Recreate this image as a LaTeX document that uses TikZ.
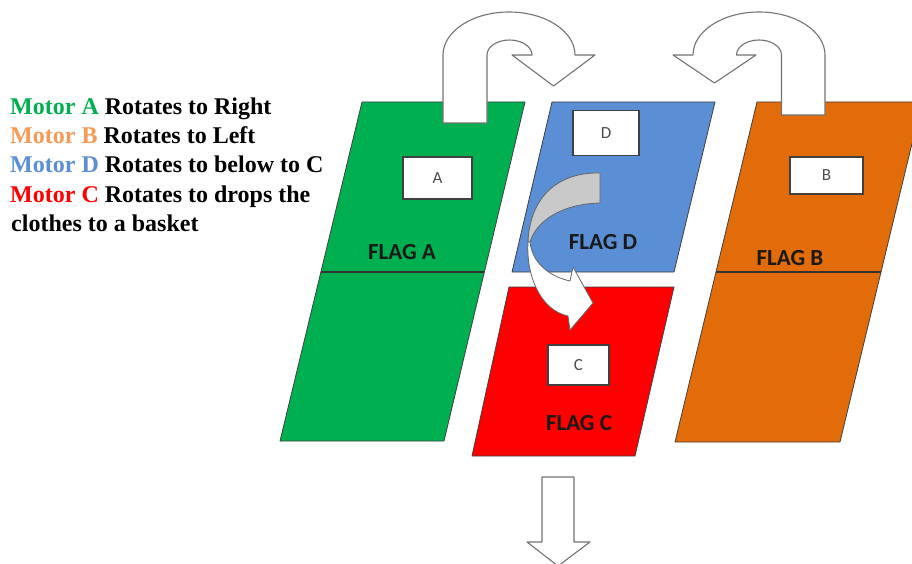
\documentclass[tikz,border=0pt]{standalone}
\usepackage{fontspec}
\setmainfont{Liberation Serif}
\newfontfamily\calib{Carlito}
\usetikzlibrary{calc}
\definecolor{fgreen}{HTML}{00B050}
\definecolor{fblue}{HTML}{5A8ED5}
\definecolor{fred}{HTML}{FF0000}
\definecolor{forange}{HTML}{E26C0A}
\definecolor{mgreen}{HTML}{00B050}
\definecolor{morange}{HTML}{F79A55}
\definecolor{mblue}{HTML}{5A8ED5}
\definecolor{mred}{HTML}{FF0000}
\definecolor{backgray}{HTML}{C9C9C9}
\begin{document}
\begin{tikzpicture}[x=1pt,y=-1pt,
  flag/.style={draw=black!75, line width=0.8pt, line join=round},
  midline/.style={draw=black!80, line width=1.1pt},
  tagbox/.style={draw=black!75, fill=white, line width=1.4pt, inner sep=0pt,
    font=\calib\fontsize{17}{17}\selectfont, text=black!70},
  flaglabel/.style={font=\calib\bfseries\fontsize{23}{23}\selectfont, text=black!90, inner sep=0pt},
  shapearrow/.style={draw=black!55, fill=white, line width=1.1pt, line join=round},
  legend/.style={anchor=base west, font=\bfseries\fontsize{24}{24}\selectfont, inner sep=0pt}]
\useasboundingbox (0,0) rectangle (912,564);
\clip (0,0) rectangle (912,564);

% ---- flags ----
\coordinate (gTL) at (362,102); \coordinate (gTR) at (525,102);
\coordinate (gBR) at (444,441); \coordinate (gBL) at (280,441);
\coordinate (oTL) at (757,102); \coordinate (oTR) at (922,102);
\coordinate (oBR) at (840,442); \coordinate (oBL) at (675,442);
\coordinate (bTL) at (552,102); \coordinate (bTR) at (715,102);
\coordinate (bBR) at (674,272); \coordinate (bBL) at (512,272);
\coordinate (rTL) at (509,287); \coordinate (rTR) at (674,287);
\coordinate (rBR) at (635,456); \coordinate (rBL) at (472,456);

\draw[flag, fill=fgreen] (gTL) -- (gTR) -- (gBR) -- (gBL) -- cycle;
\draw[midline] ($(gTL)!0.5015!(gBL)$) -- ($(gTR)!0.5015!(gBR)$);
\draw[flag, fill=forange] (oTL) -- (oTR) -- (oBR) -- (oBL) -- cycle;
\draw[midline] ($(oTL)!0.5!(oBL)$) -- ($(oTR)!0.5!(oBR)$);
\draw[flag, fill=fblue] (bTL) -- (bTR) -- (bBR) -- (bBL) -- cycle;
\draw[flag, fill=fred] (rTL) -- (rTR) -- (rBR) -- (rBL) -- cycle;

% ---- tag boxes ----
\node[tagbox, minimum width=69pt, minimum height=42pt] (boxA) at (437.5,178) {A};
\node[tagbox, minimum width=73pt, minimum height=37pt] (boxB) at (826.5,175.5) {B};
\node[tagbox, minimum width=66pt, minimum height=45pt] (boxD) at (606,133) {D};
\node[tagbox, minimum width=61pt, minimum height=40pt] (boxC) at (578.5,365) {C};

% ---- flag labels ----
\node[flaglabel] (labA) at (402,252) {FLAG A};
\node[flaglabel] (labB) at (790,258) {FLAG B};
\node[flaglabel] (labD) at (603,242) {FLAG D};
\node[flaglabel] (labC) at (579,423) {FLAG C};

% ---- U-turn arrow of motor A (to the right) ----
\draw[shapearrow] (443,123) -- (443,55)
  arc[start angle=180, end angle=0, x radius=66pt, y radius=43pt]
  -- (595,55) -- (553.5,86) -- (512,55) -- (532,55)
  arc[start angle=0, end angle=180, x radius=22.5pt, y radius=15pt]
  -- (487,123) -- cycle;

% ---- U-turn arrow of motor B (to the left) ----
\draw[shapearrow] (825,115) -- (825,55)
  arc[start angle=0, end angle=180, x radius=66pt, y radius=43pt]
  -- (673,55) -- (714.5,83) -- (756,55) -- (736.5,55)
  arc[start angle=180, end angle=0, x radius=22.5pt, y radius=15pt]
  -- (781.5,115) -- cycle;

% ---- curved arrow of motor D (from D down to C) ----
\draw[draw=black!60, fill=backgray, line width=0.8pt, line join=round]
  (600,173) .. controls (560,172) and (530,195) .. (528,242)
  -- (530,242) .. controls (536,222) and (560,204) .. (600,203) -- cycle;
\draw[draw=black!60, fill=white, line width=0.8pt, line join=round]
  (528,242) .. controls (526,275) and (540,310) .. (568,316)
  -- (570,330) -- (593,303) -- (573,267) -- (570,281)
  .. controls (548,276) and (532,262) .. (530,242) -- cycle;

% ---- down arrow (drop to the basket) ----
\draw[shapearrow] (542,477) -- (574,477) -- (574,542) -- (590,542)
  -- (558,566) -- (527,542) -- (542,542) -- cycle;

% ---- legend ----
\node[legend] (l1) at (10,115) {\textcolor{mgreen}{Motor A} Rotates to Right};
\node[legend] (l2) at (10,144) {\textcolor{morange}{Motor B} Rotates to Left};
\node[legend] (l3) at (10,173) {\textcolor{mblue}{Motor D} Rotates to below to C};
\node[legend] (l4) at (10,202) {\textcolor{mred}{Motor C} Rotates to drops the};
\node[legend] (l5) at (11,231) {clothes to a basket};
\end{tikzpicture}
\end{document}
